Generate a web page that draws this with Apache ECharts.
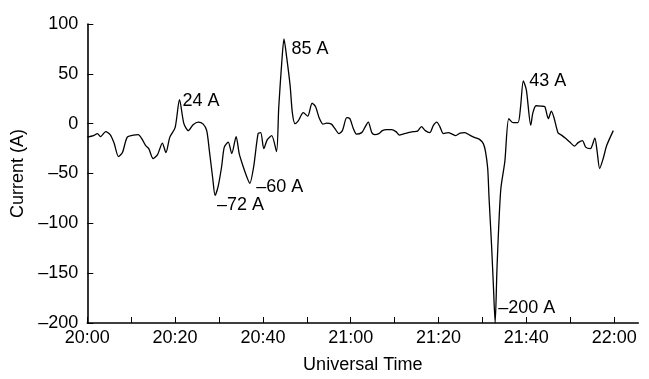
<!DOCTYPE html>
<html>
<head>
<meta charset="utf-8">
<script src="https://cdn.jsdelivr.net/npm/echarts@6/dist/echarts.min.js"></script>
<style>
  html, body { margin: 0; padding: 0; background: #fff; }
  #chart { width: 649px; height: 379px; }
</style>
</head>
<body>
<div id="chart"></div>
<script>
// Minutes after 20:00 UT
const minutes = [
  0.0, 1.4, 2.3, 3.0, 4.2, 5.2, 6.1, 7.1, 8.0, 9.1,
  10.5, 11.6, 12.4, 13.3, 14.0, 15.0, 16.0, 17.1, 17.9, 18.8,
  20.0, 21.0, 22.0, 23.0, 24.1, 25.3, 26.4, 27.2, 27.8, 28.6,
  29.1, 29.8, 30.6, 31.2, 32.1, 32.9, 33.9, 34.6, 35.5, 36.3,
  37.0, 37.9, 38.9, 39.5, 40.2, 41.0, 42.0, 43.1, 43.6, 44.3,
  44.8, 45.4, 46.2, 46.7, 47.3, 48.0, 49.2, 50.2, 51.2, 52.0,
  52.8, 53.7, 54.5, 55.6, 56.4, 57.3, 58.1, 59.1, 59.8, 60.6,
  61.3, 62.5, 63.2, 64.0, 64.8, 65.5, 66.4, 67.2, 68.2, 69.3,
  70.3, 71.1, 71.9, 73.1, 74.2, 75.2, 76.1, 77.0, 78.0, 78.8,
  79.6, 80.3, 81.1, 82.2, 83.1, 83.9, 84.9, 86.0, 87.1, 88.3,
  89.4, 90.2, 90.7, 91.2, 91.5, 92.1, 92.5, 92.9, 93.3, 93.7,
  94.2, 95.1, 96.0, 97.0, 98.1, 98.7, 99.3, 100.0, 101.0, 101.5,
  102.2, 103.5, 104.2, 105.0, 105.7, 106.3, 107.2, 108.0, 109.0, 109.9,
  111.0, 111.8, 112.8, 113.5, 114.6, 115.6, 116.1, 116.7, 117.5, 118.3,
  119.8
];

// Current (A)
const current = [
  -13.5, -12, -10, -13, -8, -11, -19.5, -33, -29, -13.5,
  -11.5, -11, -15, -22, -25, -35, -31, -19.5, -29, -13.5,
  -4, 24, 0, -7, -1, 1.5, -0.5, -7, -27, -56,
  -72, -63, -43, -23.5, -18.5, -30, -13, -30, -43, -53,
  -60, -43, -10, -9, -25, -16, -12, -28, 16, 62,
  85, 67, 38, 11, 0, 2.5, 11, 7.5, 20.5, 17,
  6, -0.5, 0.5, -0.5, -5, -10, -7, 6, 5, -5,
  -10.5, -9, -4, 1.5, -9, -11, -10, -7, -6, -6,
  -8, -11.5, -10.5, -9, -8, -7.5, -3, -7, -9, -2,
  1.5, -3, -10, -9, -10.5, -12, -9.5, -9, -11.5, -14,
  -16, -20, -28, -45, -74, -124, -163, -200, -147, -104,
  -65, -38, 5, 1, 1, 17.5, 43, 34, -1.5, 11,
  18, 17.5, 17, 5, 12.5, 6, -9, -11.5, -15, -18.5,
  -22.5, -19, -17, -23.5, -25, -14.5, -27, -45, -35, -22,
  -7
];

// Annotated extremes (minutes after 20:00)
const peakMinutes = [21.0, 29.1, 37.0, 44.8, 92.9, 99.3];

// Axis ticks
const tickMinutes = [0, 10, 20, 30, 40, 50, 60, 70, 80, 90, 100, 110, 120];
const labelMinutes = [0, 20, 40, 60, 80, 100, 120];
const yTicks = [-200, -150, -100, -50, 0, 50, 100];

const FONT = '"Liberation Sans", Arial, Helvetica, sans-serif';
const dash = s => String(s).replace('-', '\u2013');
const clock = m => {
  const h = 20 + Math.floor(m / 60);
  const mm = Math.round(m % 60);
  return h + ':' + (mm < 10 ? '0' : '') + mm;
};

// label offsets for each annotated extreme, in the same order as peakMinutes
const peakLabelOffsets = [[3, 1.5], [2, 9.5], [6.5, 4], [7.5, 10], [3, -15], [6, 0.5]];

const lineData = minutes.map((m, i) => [m, current[i]]);
const peakData = peakMinutes.map((pm, k) => {
  const i = minutes.indexOf(pm);
  return {
    value: [minutes[i], current[i]],
    label: { offset: peakLabelOffsets[k] }
  };
});

const chart = echarts.init(document.getElementById('chart'));
chart.setOption({
  animation: false,
  backgroundColor: '#fff',
  grid: { left: 87.3, right: 10.7, top: 24, bottom: 52.3 },
  xAxis: {
    type: 'value',
    min: 0,
    max: 125.5,
    name: 'Universal Time',
    nameLocation: 'middle',
    nameGap: 33,
    nameTextStyle: { fontFamily: FONT, fontSize: 18, color: '#000' },
    axisLine: { onZero: false, lineStyle: { color: '#000', width: 1.6 } },
    axisTick: {
      inside: true, length: 6, customValues: tickMinutes,
      lineStyle: { color: '#000', width: 1 }
    },
    axisLabel: {
      customValues: labelMinutes,
      formatter: v => clock(v),
      margin: 6,
      fontFamily: FONT, fontSize: 18, color: '#000'
    },
    splitLine: { show: false }
  },
  yAxis: {
    type: 'value',
    min: yTicks[0],
    max: yTicks[yTicks.length - 1],
    interval: 50,
    name: 'Current (A)',
    nameLocation: 'middle',
    nameGap: 55,
    nameTextStyle: { fontFamily: FONT, fontSize: 18, color: '#000' },
    axisLine: { show: true, onZero: false, lineStyle: { color: '#000', width: 1.6 } },
    axisTick: { show: true, inside: true, length: 6, lineStyle: { color: '#000', width: 1 } },
    axisLabel: {
      formatter: v => dash(v),
      margin: 9,
      fontFamily: FONT, fontSize: 18, color: '#000'
    },
    splitLine: { show: false }
  },
  series: [
    {
      type: 'line',
      data: lineData,
      showSymbol: false,
      symbol: 'none',
      smooth: 0.25,
      lineStyle: { color: '#000', width: 1.3 },
      z: 3
    },
    {
      type: 'scatter',
      data: peakData,
      symbolSize: 0,
      itemStyle: { color: 'transparent', opacity: 1 },
      label: {
        show: true,
        position: 'right',
        distance: 0,
        formatter: p => dash(p.value[1]) + ' A',
        fontFamily: FONT, fontSize: 18, color: '#000'
      },
      z: 4
    }
  ]
});
</script>
</body>
</html>
